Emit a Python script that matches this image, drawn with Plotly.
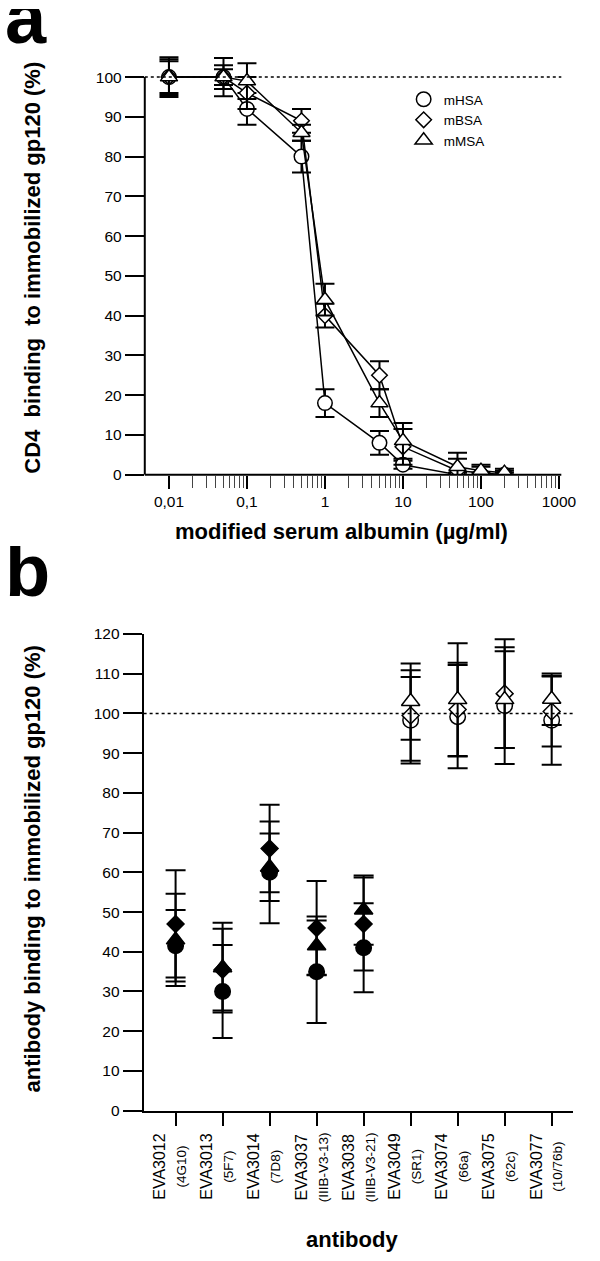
import plotly.graph_objects as go

# ---- panel a: CD4 binding vs. modified serum albumin ----
conc = [0.01, 0.05, 0.1, 0.5, 1, 5, 10, 50, 100, 200]
mhsa_a = [100, 100, 92, 80, 18, 8, 2.5, 0, 0, 0]
mhsa_a_err = [5, 4.8, 4, 4, 3.5, 3, 1, 0.5, 0.5, 0.5]
mbsa_a = [100, 100, 96, 89, 40, 25, 7, 1, 0.5, 0]
mbsa_a_err = [4, 3, 4, 3, 3, 3.5, 4.5, 3, 1.5, 1]
mmsa_a = [100, 100, 99, 86, 44, 18, 8.5, 2, 1, 0.5]
mmsa_a_err = [4.5, 2, 4.5, 2, 4, 3.5, 4.5, 3.5, 1.5, 1]

x_ticks_a = [0.01, 0.1, 1, 10, 100, 1000]
x_ticktext_a = ['0,01', '0,1', '1', '10', '100', '1000']

# ---- panel b: antibody binding ----
antibodies = ['EVA3012', 'EVA3013', 'EVA3014', 'EVA3037', 'EVA3038',
              'EVA3049', 'EVA3074', 'EVA3075', 'EVA3077']
epitopes = ['(4G10)', '(5F7)', '(7D8)', '(IIIB-V3-13)', '(IIIB-V3-21)',
            '(SR1)', '(66a)', '(62c)', '(10/76b)']
mhsa_b = [41.5, 30, 60, 35, 41, 98.3, 99.2, 102, 98.3]
mhsa_b_err = [9, 11.7, 12.8, 12.9, 11.2, 10.9, 13, 14.7, 11.2]
mbsa_b = [47, 35.5, 66, 46, 47, 99.5, 101, 105, 100.5]
mbsa_b_err = [13.5, 10.3, 11, 11.8, 11.7, 11.4, 11.8, 13.7, 8.8]
mmsa_b = [43, 36, 61.3, 41.5, 50.5, 103, 103.5, 103.5, 103.6]
mmsa_b_err = [11.6, 11.3, 8.5, 7.4, 8.7, 9.6, 14.2, 12.2, 6.5]

FONT = 'Liberation Sans, Arial, sans-serif'
W, H = 600, 1261

fig = go.Figure()

series_a = [('mHSA', 'circle', 14.5, mhsa_a, mhsa_a_err),
            ('mBSA', 'diamond', 12, mbsa_a, mbsa_a_err),
            ('mMSA', 'triangle-up', 15, mmsa_a, mmsa_a_err)]
for name, sym, size, vals, err in series_a:
    fig.add_trace(go.Scatter(
        x=conc, y=vals, mode='lines+markers', showlegend=False,
        line=dict(color='black', width=1.5),
        marker=dict(symbol=sym, size=size, color='white', line=dict(color='black', width=1.5)),
        error_y=dict(type='data', array=err, color='black', thickness=2, width=9.5),
        xaxis='x', yaxis='y'))
# legend entries (symbols only)
for name, sym, size, vals, err in series_a:
    fig.add_trace(go.Scatter(
        x=[None], y=[None], mode='markers', name=name,
        marker=dict(symbol=sym, size=size, color='white', line=dict(color='black', width=1.5)),
        xaxis='x', yaxis='y'))

fill_b = ['black' if i < 5 else 'white' for i in range(len(antibodies))]
series_b = [('circle', 15.5, mhsa_b, mhsa_b_err),
            ('diamond', 13, mbsa_b, mbsa_b_err),
            ('triangle-up', 16, mmsa_b, mmsa_b_err)]
for sym, size, vals, err in series_b:
    fig.add_trace(go.Scatter(
        x=antibodies, y=vals, mode='markers', showlegend=False,
        marker=dict(symbol=sym, size=size, color=fill_b, line=dict(color='black', width=1.5)),
        error_y=dict(type='data', array=err, color='black', thickness=2, width=10),
        xaxis='x2', yaxis='y2'))

tickfont = dict(family=FONT, size=15.5, color='black')
fig.update_layout(
    width=W, height=H, margin=dict(l=0, r=0, t=0, b=0),
    paper_bgcolor='white', plot_bgcolor='white',
    font=dict(family=FONT, color='black'),
    xaxis=dict(type='log', domain=[148.5 / W, 575.7 / W], range=[-2.31, 3.03],
               tickvals=x_ticks_a, ticktext=x_ticktext_a, tickfont=tickfont,
               ticks='outside', ticklen=13, tickwidth=1.5, tickcolor='black',
               minor=dict(ticks='outside', ticklen=12, tickwidth=1, tickcolor='#444',
                          tickvals=[k * 10 ** e for e in range(-2, 3) for k in range(2, 10)]),
               showgrid=False, zeroline=False, showline=False, anchor='y'),
    yaxis=dict(domain=[1 - 472 / H, 1 - 36.8 / H], range=[0, 108],
               tickvals=list(range(0, 101, 10)), tickfont=tickfont,
               ticks='outside', ticklen=19, tickwidth=2, tickcolor='black',
               showgrid=False, zeroline=False, showline=False, anchor='x'),
    xaxis2=dict(domain=[147.3 / W, 588 / W], range=[-0.68, 8.46],
                showticklabels=False, ticks='outside', ticklen=13, tickwidth=2,
                tickcolor='black', showline=True, linewidth=2, linecolor='black',
                showgrid=False, zeroline=False, anchor='y2'),
    yaxis2=dict(domain=[1 - 1116.7 / H, 1 - 633.6 / H], range=[0, 120],
                tickvals=list(range(0, 121, 10)), tickfont=tickfont,
                ticks='outside', ticklen=19, tickwidth=2, tickcolor='black',
                showline=True, linewidth=2, linecolor='black',
                showgrid=False, zeroline=False, anchor='x2'),
    legend=dict(x=414 / W, y=1 - 76 / H, xanchor='left', yanchor='top',
                font=dict(family=FONT, size=13.5, color='black'),
                bgcolor='rgba(0,0,0,0)', tracegroupgap=0, itemwidth=30),
)

shapes = [
    # panel a axis lines
    dict(type='line', xref='x domain', yref='y', x0=0, x1=0, y0=0, y1=100,
         line=dict(color='black', width=2)),
    dict(type='line', xref='x domain', yref='y domain', x0=0, x1=1, y0=0, y1=0,
         line=dict(color='black', width=2)),
    # 100 % reference lines
    dict(type='line', xref='x domain', yref='y', x0=0, x1=1, y0=100, y1=100,
         line=dict(color='black', width=1.5, dash='dot')),
    dict(type='line', xref='x2 domain', yref='y2', x0=0, x1=1, y0=100, y1=100,
         line=dict(color='black', width=1.5, dash='dot')),
]
fig.update_layout(shapes=shapes)

title_font = dict(family=FONT, size=22, color='black')
ann = []
# panel letters: fixed box height so the empty ascender space does not leave the page
ann.append(dict(text='<b>a</b>', x=3 / W, y=1 - 53 / H, xref='paper', yref='paper',
                xanchor='left', yanchor='bottom', height=50, valign='bottom', showarrow=False,
                font=dict(family=FONT, size=74, color='black')))
ann.append(dict(text='<b>b</b>', x=3 / W, y=1 - 613 / H, xref='paper', yref='paper',
                xanchor='left', yanchor='bottom', height=66, valign='bottom', showarrow=False,
                font=dict(family=FONT, size=74, color='black')))
ann.append(dict(text='<b>CD4  binding  to immobilized gp120 (%)</b>', textangle=-90,
                x=33 / W, y=1 - 262 / H, xref='paper', yref='paper',
                xanchor='center', yanchor='middle', showarrow=False, font=title_font))
ann.append(dict(text='<b>modified serum albumin (µg/ml)</b>',
                x=350 / W, y=1 - 530 / H, xref='paper', yref='paper',
                xanchor='center', yanchor='middle', showarrow=False, font=title_font))
ann.append(dict(text='<b>antibody binding to immobilized gp120 (%)</b>', textangle=-90,
                x=33 / W, y=1 - 872 / H, xref='paper', yref='paper',
                xanchor='center', yanchor='middle', showarrow=False, font=title_font))
ann.append(dict(text='<b>antibody</b>',
                x=361 / W, y=1 - 1247 / H, xref='paper', yref='paper',
                xanchor='center', yanchor='middle', showarrow=False, font=title_font))
for ab, ep in zip(antibodies, epitopes):
    ann.append(dict(text=f"{ab}<br><span style='font-size:13.5px'>{ep}</span>",
                    textangle=-90, x=ab, xref='x2', y=1 - 1137 / H, yref='paper',
                    xanchor='center', yanchor='top', xshift=-5, align='center',
                    showarrow=False, font=dict(family=FONT, size=16, color='black')))
fig.update_layout(annotations=ann)

# the page body has a default 8px margin; remove it so the figure sits at the origin
fig.write_html('out.html', config={'displayModeBar': False},
               post_script="document.body.style.margin='0px';")
